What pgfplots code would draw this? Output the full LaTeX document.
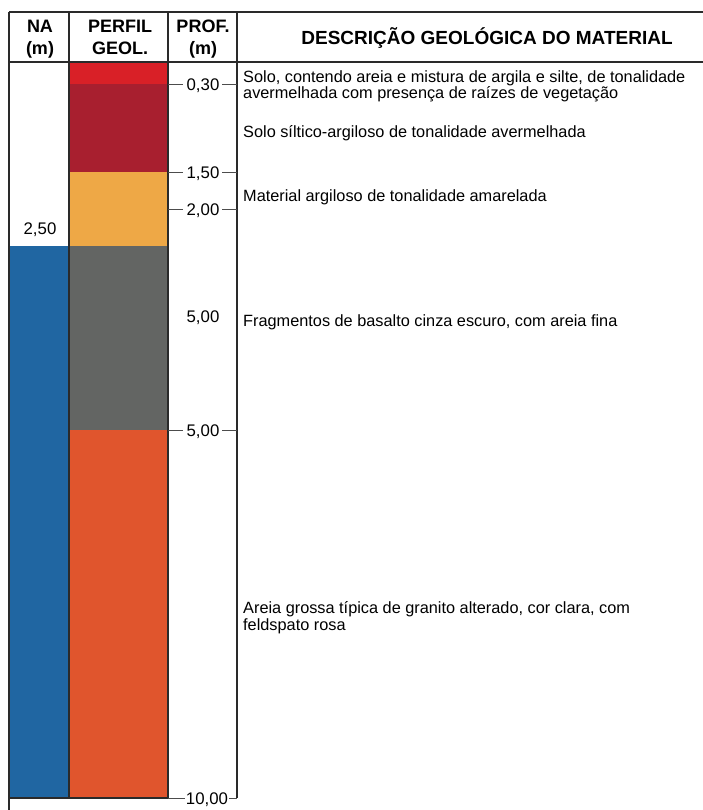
\documentclass[border=0pt]{standalone}
\usepackage{pgfplots}
\pgfplotsset{compat=1.18}
\usepackage{fontspec}
\setmainfont{Liberation Sans}
\definecolor{cRed}{HTML}{D92027}
\definecolor{cDark}{HTML}{A81F2F}
\definecolor{cYel}{HTML}{EEA846}
\definecolor{cGrey}{HTML}{636563}
\definecolor{cOra}{HTML}{E0552D}
\definecolor{cBlue}{HTML}{2066A2}
\definecolor{cLine}{HTML}{2A2A2A}
\begin{document}
\begin{tikzpicture}[
  tl/.style={cLine, line width=1.4pt},
  tk/.style={black!70, line width=1pt},
  desc/.style={anchor=base west, inner sep=0pt, font=\fontsize{16.3}{17.5}\selectfont},
  dl/.style={anchor=base, inner sep=0pt, font=\fontsize{16.8}{18}\selectfont},
  hd/.style={anchor=base, inner sep=0pt, font=\fontsize{18}{18}\selectfont\bfseries},
]
\begin{axis}[
  width=703pt, height=810pt, scale only axis,
  xmin=0, xmax=703, ymin=-0.8424, ymax=10.163, y dir=reverse,
  axis lines=none, ticks=none, clip=false,
]
% geological profile layers (depth in m)
\addplot[fill=cRed, draw=none]  coordinates {(69,0) (168,0) (168,0.3) (69,0.3)} -- cycle;
\addplot[fill=cDark, draw=none] coordinates {(69,0.3) (168,0.3) (168,1.5) (69,1.5)} -- cycle;
\addplot[fill=cYel, draw=none]  coordinates {(69,1.5) (168,1.5) (168,2.5) (69,2.5)} -- cycle;
\addplot[fill=cGrey, draw=none] coordinates {(69,2.5) (168,2.5) (168,5.0) (69,5.0)} -- cycle;
\addplot[fill=cOra, draw=none]  coordinates {(69,5.0) (168,5.0) (168,10) (69,10)} -- cycle;
% water level
\addplot[fill=cBlue, draw=none] coordinates {(9,2.5) (69,2.5) (69,10) (9,10)} -- cycle;

% table lines
\draw[tl] (axis cs:9,-0.679) -- (axis cs:703,-0.679);
\draw[tl] (axis cs:9,0) -- (axis cs:703,0);
\draw[tl] (axis cs:9,-0.679) -- (axis cs:9,10.163);
\draw[tl] (axis cs:69,-0.679) -- (axis cs:69,10);
\draw[tl] (axis cs:168,-0.679) -- (axis cs:168,10);
\draw[tl] (axis cs:237,-0.679) -- (axis cs:237,10);
\draw[tl] (axis cs:9,10) -- (axis cs:168,10);

% depth marks
\draw[tk] (axis cs:168,0.3) -- (axis cs:183,0.3);
\draw[tk] (axis cs:222,0.3) -- (axis cs:237,0.3);
\node[dl, yshift=-6pt] at (axis cs:203,0.3) {0,30};
\draw[tk] (axis cs:168,1.5) -- (axis cs:183,1.5);
\draw[tk] (axis cs:222,1.5) -- (axis cs:237,1.5);
\node[dl, yshift=-6pt] at (axis cs:203,1.5) {1,50};
\draw[tk] (axis cs:168,2.0) -- (axis cs:183,2.0);
\draw[tk] (axis cs:222,2.0) -- (axis cs:237,2.0);
\node[dl, yshift=-6pt] at (axis cs:203,2.0) {2,00};
\draw[tk] (axis cs:168,5.0) -- (axis cs:183,5.0);
\draw[tk] (axis cs:222,5.0) -- (axis cs:237,5.0);
\node[dl, yshift=-6pt] at (axis cs:203,5.0) {5,00};
\draw[tk] (axis cs:168,10) -- (axis cs:185,10);
\draw[tk] (axis cs:229,10) -- (axis cs:237,10);
\node[dl, yshift=-6pt] at (axis cs:207,10) {10,00};
\node[dl] at (axis cs:203,3.5421) {5,00};
\node[dl] at (axis cs:40,2.3505) {2,50};

% headers
\node[hd] at (axis cs:40,-0.3981) {NA};
\node[hd] at (axis cs:40,-0.1046) {(m)};
\node[hd] at (axis cs:120,-0.3981) {PERFIL};
\node[hd] at (axis cs:120,-0.1046) {GEOL.};
\node[hd] at (axis cs:203,-0.3981) {PROF.};
\node[hd] at (axis cs:203,-0.1046) {(m)};
\node[anchor=base, inner sep=0pt, font=\fontsize{19}{19}\selectfont\bfseries]
  at (axis cs:487,-0.2310) {DESCRIÇÃO GEOLÓGICA DO MATERIAL};

% descriptions
\node[desc] at (axis cs:243,0.2853) {Solo, contendo areia e mistura de argila e silte, de tonalidade};
\node[desc] at (axis cs:243,0.5027) {avermelhada com presença de raízes de vegetação};
\node[desc] at (axis cs:243,1.0326) {Solo síltico-argiloso de tonalidade avermelhada};
\node[desc] at (axis cs:243,1.8981) {Material argiloso de tonalidade amarelada};
\node[desc] at (axis cs:243,3.5965) {Fragmentos de basalto cinza escuro, com areia fina};
\node[desc] at (axis cs:243,7.4864) {Areia grossa típica de granito alterado, cor clara, com};
\node[desc] at (axis cs:243,7.7174) {feldspato rosa};
\end{axis}
\pgfresetboundingbox
\path[use as bounding box] (current axis.south west) rectangle (current axis.north east);
\end{tikzpicture}
\end{document}
